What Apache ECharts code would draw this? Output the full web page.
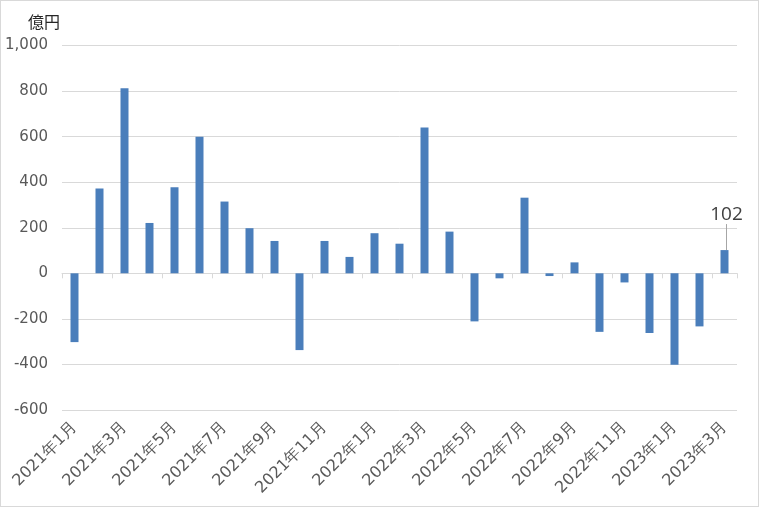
<!DOCTYPE html>
<html>
<head>
<meta charset="utf-8">
<script src="https://cdn.jsdelivr.net/npm/echarts@6/dist/echarts.min.js"></script>
<style>
html,body{margin:0;padding:0;background:#fff;}
#wrap{position:absolute;left:0;top:0;width:757px;height:505px;border:1px solid #d9d9d9;}
#chart{width:757px;height:505px;}
</style>
</head>
<body>
<div id="wrap"><div id="chart"></div></div>
<script>
var categories = ['2021年1月','2021年2月','2021年3月','2021年4月','2021年5月','2021年6月','2021年7月','2021年8月','2021年9月','2021年10月','2021年11月','2021年12月',
  '2022年1月','2022年2月','2022年3月','2022年4月','2022年5月','2022年6月','2022年7月','2022年8月','2022年9月','2022年10月','2022年11月','2022年12月',
  '2023年1月','2023年2月','2023年3月'];
var values = [-302, 372, 812, 221, 378, 599, 315, 198, 142, -337, 142, 72,
  176, 130, 640, 183, -211, -22, 332, -12, 48, -257, -40, -262,
  -401, -233, 102];
var yTicks = {min: -600, max: 1000, interval: 200};
var unitLabel = '億円';

var fontFamily = '"DejaVu Sans", Verdana, sans-serif';
var labeledIndex = values.length - 1;
var seriesData = values.map(function (v, i) {
  if (i === labeledIndex) {
    return {
      value: v,
      label: {
        show: true, position: 'top', distance: 4,
        formatter: function (p) { return String(p.value); },
        color: '#404040', fontSize: 19, fontFamily: '"Open Sans", "Noto Sans", sans-serif'
      },
      labelLine: {show: true, lineStyle: {color: '#a6a6a6', width: 1}}
    };
  }
  return v;
});

var chart = echarts.init(document.getElementById('chart'));
chart.setOption({
  animation: false,
  backgroundColor: '#fff',
  graphic: [{
    type: 'text', left: 27, top: 13,
    style: {text: unitLabel, fontSize: 16, fill: '#262626', fontFamily: '"Noto Sans CJK JP", sans-serif'}
  }],
  grid: {left: 61, right: 21, top: 44.5, bottom: 96},
  xAxis: [{
    type: 'category', data: categories,
    axisLine: {onZero: true, lineStyle: {color: '#d9d9d9', width: 1}},
    axisTick: {show: true, interval: 1, length: 5, lineStyle: {color: '#d9d9d9'}},
    axisLabel: {show: false},
    splitLine: {show: false}
  }, {
    type: 'category', data: categories, position: 'bottom',
    axisLine: {show: false, onZero: false},
    axisTick: {show: false},
    axisLabel: {
      show: true, interval: 1, rotate: 45, margin: 15,
      color: '#595959', fontSize: 16, fontFamily: fontFamily
    }
  }],
  yAxis: {
    type: 'value', min: yTicks.min, max: yTicks.max, interval: yTicks.interval,
    axisLine: {show: false}, axisTick: {show: false},
    axisLabel: {
      margin: 14, color: '#595959', fontSize: 15, fontFamily: fontFamily,
      formatter: function (v) { return v.toLocaleString('en-US'); }
    },
    splitLine: {lineStyle: {color: '#d9d9d9', width: 1}}
  },
  series: [{
    type: 'bar', xAxisIndex: 0, data: seriesData, barWidth: 8,
    itemStyle: {color: '#4a7ebb'},
    labelLayout: function (params) {
      if (params.dataIndex === labeledIndex) {
        return {dx: 2, dy: -22};
      }
      return {};
    }
  }]
});
</script>
</body>
</html>
